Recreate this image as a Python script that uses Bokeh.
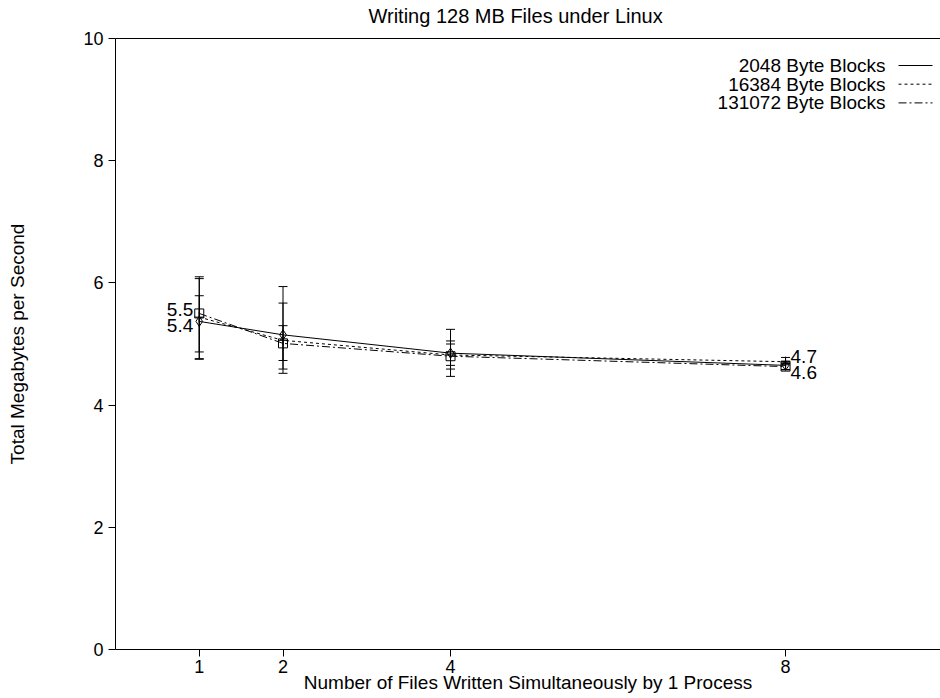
from bokeh.plotting import figure
from bokeh.models import (ColumnDataSource, Whisker, TeeHead, Range1d, FixedTicker,
                          LinearAxis, Title)
from bokeh.core.properties import value
from bokeh.embed import file_html
from bokeh.resources import INLINE

# ---------------- data ----------------
files = [1, 2, 4, 8]
series_names = ["2048 Byte Blocks", "16384 Byte Blocks", "131072 Byte Blocks"]

mb_2048 = [5.37, 5.15, 4.85, 4.65]
lo_2048 = [4.75, 4.59, 4.47, 4.58]
hi_2048 = [6.07, 5.94, 5.24, 4.72]

mb_16384 = [5.44, 5.06, 4.82, 4.71]
lo_16384 = [4.87, 4.73, 4.59, 4.66]
hi_16384 = [5.79, 5.30, 5.05, 4.78]

mb_131072 = [5.50, 5.01, 4.80, 4.63]
lo_131072 = [4.76, 4.52, 4.65, 4.58]
hi_131072 = [6.10, 5.67, 5.00, 4.68]

x_ticks = [1, 2, 4, 8]
y_ticks = [0, 2, 4, 6, 8, 10]

title_text = "Writing 128 MB Files under Linux"
x_label_text = "Number of Files Written Simultaneously by 1 Process"
y_label_text = "Total Megabytes per Second"

# ---------------- layout ----------------
FONT = "Liberation Sans"
FS = "19px"
TICK_FS = "18px"
W, H = 940, 698
ML, MR, MT, MB = 115, 0, 38, 49
X0, X1 = 0, 9.85
Y0, Y1 = 0, 10
frame_w = W - ML - MR
frame_h = H - MT - MB


def dx(px):  # page x pixel -> data x
    return X0 + (X1 - X0) * (px - ML) / frame_w


def dy(py):  # page y pixel -> data y
    return Y1 - (Y1 - Y0) * (py - MT) / frame_h


p = figure(width=W, height=H, output_backend="svg", toolbar_location=None,
           x_range=Range1d(X0, X1), y_range=Range1d(Y0, Y1),
           min_border_left=ML, min_border_right=MR, min_border_top=MT,
           min_border_bottom=MB)
p.outline_line_color = None
p.grid.visible = False
p.background_fill_color = "white"
p.border_fill_color = "white"

for ax in (p.xaxis[0], p.yaxis[0]):
    ax.major_tick_in = 0
    ax.major_tick_out = 7
    ax.minor_tick_line_color = None
    ax.axis_line_color = "black"
    ax.major_tick_line_color = "black"
    ax.major_label_text_font = FONT
    ax.major_label_text_font_size = TICK_FS
    ax.major_label_text_color = "black"
    ax.axis_label_text_font = FONT
    ax.axis_label_text_font_size = FS
    ax.axis_label_text_font_style = "normal"
    ax.axis_label_text_color = "black"

p.xaxis.ticker = FixedTicker(ticks=x_ticks)
p.yaxis.ticker = FixedTicker(ticks=y_ticks)
p.xaxis.major_label_standoff = 3
p.xaxis.axis_label = x_label_text
p.xaxis.axis_label_standoff = -4
p.yaxis.major_label_standoff = 5
p.yaxis.axis_label = y_label_text
p.yaxis.axis_label_standoff = 52

# top border line; one invisible, unlabeled tick reserves space under the title
spacer_tick = (X0 + X1) / 2
top = LinearAxis(ticker=FixedTicker(ticks=[spacer_tick]), major_tick_in=0,
                 major_tick_out=12, major_tick_line_color=None,
                 minor_tick_line_color=None, major_label_standoff=0,
                 major_label_overrides={spacer_tick: ""}, axis_line_color="black")
p.add_layout(top, "above")

p.add_layout(Title(text=title_text, align="left", offset=253, text_font=FONT,
                   text_font_size="20px", text_font_style="normal",
                   text_color="black", standoff=0), "above")

# ---------------- series ----------------
series = [
    (mb_2048, lo_2048, hi_2048, "solid", "diamond"),
    (mb_16384, lo_16384, hi_16384, "3 3", "cross"),
    (mb_131072, lo_131072, hi_131072, "8 3 2 3", "square"),
]

for mb, lo, hi, dash, marker in series:
    src = ColumnDataSource(dict(x=files, y=mb, lower=lo, upper=hi))
    p.add_layout(Whisker(base="x", lower="lower", upper="upper", source=src,
                         line_color="black", line_width=1,
                         upper_head=TeeHead(size=9, line_color="black", line_width=1),
                         lower_head=TeeHead(size=9, line_color="black", line_width=1)))
    p.line("x", "y", source=src, line_color="black", line_width=1, line_dash=dash)
    p.scatter("x", "y", source=src, marker=marker, size=10 if marker != "square" else 9,
              line_color="black", fill_color=None, line_width=1)

# value labels
lab_l = ColumnDataSource(dict(x=[files[0], files[0]], y=[mb_131072[0], mb_2048[0]],
                              t=["%.1f" % mb_131072[0], "%.1f" % mb_2048[0]],
                              off=[-4, 4]))
p.text("x", "y", text="t", source=lab_l, x_offset=-6, y_offset="off",
       text_align="right", text_baseline="middle", text_font=value(FONT),
       text_font_size=FS, text_color="black")
lab_r = ColumnDataSource(dict(x=[files[-1], files[-1]], y=[mb_16384[-1], mb_131072[-1]],
                              t=["%.1f" % mb_16384[-1], "%.1f" % mb_131072[-1]],
                              off=[-5, 6]))
p.text("x", "y", text="t", source=lab_r, x_offset=5, y_offset="off",
       text_align="left", text_baseline="middle", text_font=value(FONT),
       text_font_size=FS, text_color="black")

# ---------------- legend (label left, sample right) ----------------
dashes = ["solid", "3 3", "8 3 2 3"]
for i, (name, dash) in enumerate(zip(series_names, dashes)):
    yy = dy(65 + 18.7 * i)
    p.text(x=[dx(885)], y=[yy], text=[name], text_align="right",
           text_baseline="middle", text_font=value(FONT), text_font_size=FS,
           text_color="black")
    p.line(x=[dx(898), dx(932)], y=[yy, yy],
           line_color="black", line_width=1, line_dash=dash)

open("out.html", "w").write(file_html(p, INLINE))
